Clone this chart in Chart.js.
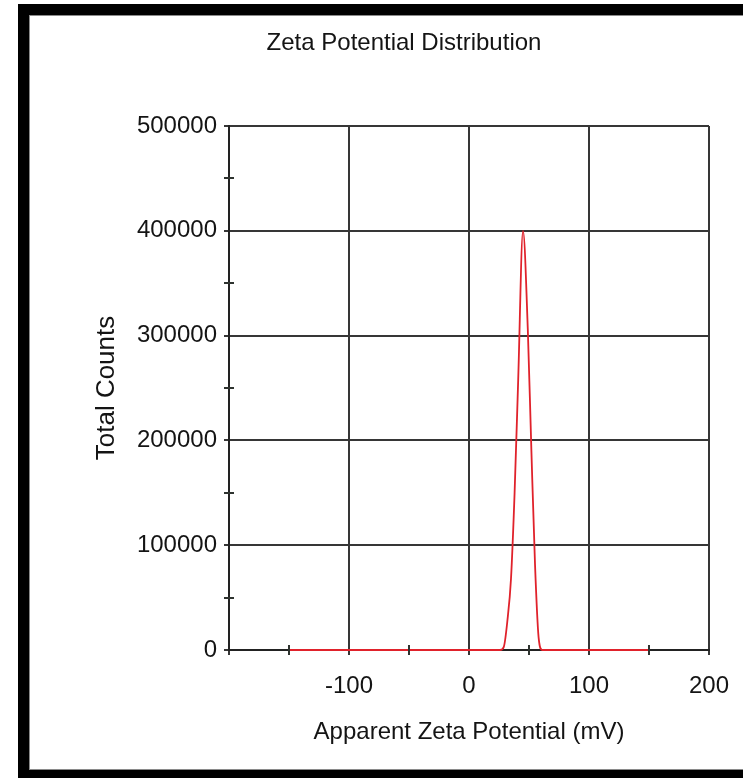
<!DOCTYPE html>
<html>
<head>
<meta charset="utf-8">
<script src="https://cdn.jsdelivr.net/npm/chart.js@4"></script>
<style>
  html, body { margin: 0; padding: 0; background: #fff; overflow: hidden; width: 743px; height: 778px; }
  #frame {
    position: absolute; left: 18px; top: 4px; width: 800px; height: 755px;
    border-left: 11px solid #000; border-top: 11px solid #000; border-bottom: 8px solid #000;
    box-shadow: inset 1px 1px 0 #8a8a8a, inset 0 -1px 0 #8a8a8a;
    pointer-events: none; z-index: 2;
  }
  #zeta { position: absolute; left: 65px; top: 0; }
</style>
</head>
<body>
<div id="frame"></div>
<canvas id="zeta" width="678" height="778"></canvas>
<script>
// zeta potential distribution
const potential = [-150, 26, 29, 32, 35, 38, 41, 45, 49, 52, 55, 58, 61, 150];
const counts = [0, 0, 3000, 28000, 68000, 150000, 258000, 400000, 306000, 190000, 82000, 12000, 0, 0];

const xTickValues = [-200, -100, 0, 100, 200];
const yTickValues = [0, 100000, 200000, 300000, 400000, 500000];
const xMinorTicks = [-150, -50, 50, 150];
const yMinorTicks = [50000, 150000, 250000, 350000, 450000];

const textColor = '#141414';
const gridColor = '#363636';

// short tick marks that cross the axis line
const minorTicks = {
  id: 'minorTicks',
  afterDatasetsDraw(chart) {
    const { ctx, scales: { x, y } } = chart;
    ctx.save();
    ctx.strokeStyle = '#2e332f';
    ctx.lineWidth = 2;
    ctx.beginPath();
    xMinorTicks.forEach(v => {
      const px = Math.round(x.getPixelForValue(v));
      ctx.moveTo(px, y.bottom - 5);
      ctx.lineTo(px, y.bottom + 5);
    });
    yMinorTicks.forEach(v => {
      const py = Math.round(y.getPixelForValue(v));
      ctx.moveTo(x.left - 5, py);
      ctx.lineTo(x.left + 5, py);
    });
    ctx.stroke();
    ctx.restore();
  }
};

new Chart(document.getElementById('zeta'), {
  type: 'scatter',
  data: {
    datasets: [{
      data: potential.map((v, i) => ({ x: v, y: counts[i] })),
      showLine: true,
      borderColor: '#e0222b',
      borderWidth: 1.8,
      pointRadius: 0,
      cubicInterpolationMode: 'monotone',
      clip: false
    }]
  },
  options: {
    responsive: false,
    animation: false,
    events: [],
    layout: { padding: 0 },
    plugins: {
      legend: { display: false },
      tooltip: { enabled: false },
      title: {
        display: true,
        text: 'Zeta Potential Distribution',
        color: textColor,
        font: { family: 'Liberation Sans, Arial, sans-serif', size: 24, weight: 'normal' },
        padding: { top: 28.6, bottom: 68.6 }
      }
    },
    scales: {
      x: {
        type: 'linear',
        min: -200,
        max: 200,
        afterBuildTicks: s => { s.ticks = xTickValues.map(v => ({ value: v })); },
        afterFit: s => { s.height = 128; s.paddingRight = 34; },
        grid: { color: gridColor, lineWidth: 2, tickLength: 5, tickColor: gridColor },
        border: { color: '#222', width: 2 },
        ticks: {
          color: textColor,
          padding: 17,
          maxRotation: 0,
          font: { family: 'Liberation Sans, Arial, sans-serif', size: 24 },
          callback: v => (v === -200 ? '' : String(v))
        },
        title: {
          display: true,
          text: 'Apparent Zeta Potential (mV)',
          color: textColor,
          font: { family: 'Liberation Sans, Arial, sans-serif', size: 24 },
          padding: { top: 0, bottom: 31.6 }
        }
      },
      y: {
        type: 'linear',
        min: 0,
        max: 500000,
        afterBuildTicks: s => { s.ticks = yTickValues.map(v => ({ value: v })); },
        afterFit: s => { s.width = 164; },
        grid: { color: gridColor, lineWidth: 2, tickLength: 5, tickColor: gridColor },
        border: { color: '#222', width: 2 },
        ticks: {
          color: textColor,
          padding: 7,
          font: { family: 'Liberation Sans, Arial, sans-serif', size: 24 },
          callback: v => String(v)
        },
        title: {
          display: true,
          text: 'Total Counts',
          color: textColor,
          font: { family: 'Liberation Sans, Arial, sans-serif', size: 26 },
          padding: { top: 26, bottom: 0 }
        }
      }
    }
  },
  plugins: [minorTicks]
});
</script>
</body>
</html>
